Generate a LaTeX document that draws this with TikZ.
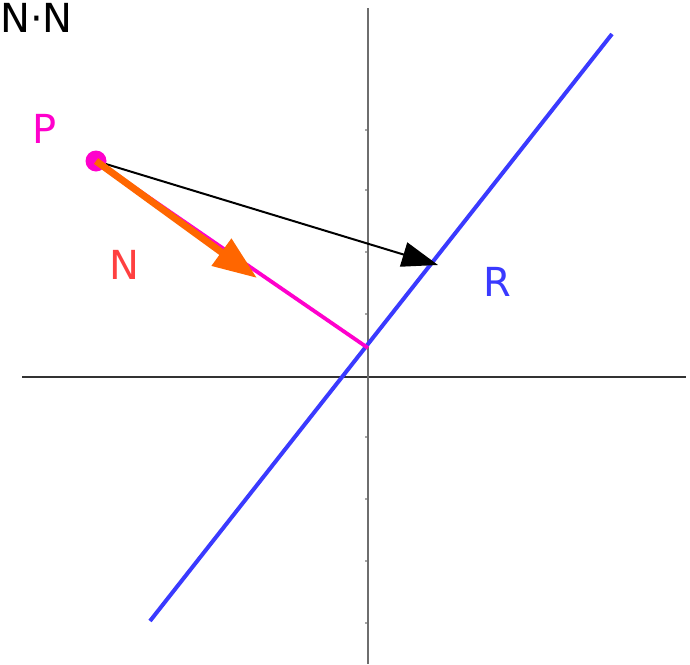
\documentclass[tikz,border=0pt]{standalone}
\usepackage{fontspec}
\setmainfont{DejaVu Sans}
\usetikzlibrary{arrows.meta,calc}
\definecolor{lineblue}{RGB}{58,58,255}
\definecolor{pmagenta}{RGB}{255,0,204}
\definecolor{narrow}{RGB}{255,102,0}
\definecolor{nred}{RGB}{255,64,64}
\tikzset{
  axisx/.style={line width=2.2pt, draw=black!80},
  axisy/.style={line width=2.2pt, draw=black!57},
  tick/.style={line width=1.4pt, draw=black!35},
  lbl/.style={inner sep=0pt, font=\fontsize{40}{48}\selectfont},
  invisible/.style={inner sep=0pt}
}

\begin{document}
\begin{tikzpicture}[x=1pt,y=-1pt]
\useasboundingbox (0,0) rectangle (690,664);

%AXES
\coordinate (xl) at (22,377);
\coordinate (xr) at (686,377);
\coordinate (yt) at (368,8);
\coordinate (yb) at (368,664);
\draw[axisx] (xl) -- (xr);
\draw[axisy] (yt) -- (yb);
\foreach \ty in {130,190,252,314,437,499,561,623}
  \draw[tick] (366,\ty-1) -- (366,\ty+1);

%LINE R
\coordinate (r1) at (150,621);
\coordinate (r2) at (612,34);
\draw[lineblue, line width=4pt] (r1) -- (r2);

%POINT P
\coordinate (P) at (96,161);
\coordinate (foot) at (368,348);
\draw[pmagenta, line width=3.8pt] (P) -- (foot);

\coordinate (hit) at (438,265);
\draw[-{Triangle[length=36pt,width=25pt]}, line width=2pt] (P) -- (hit);

\fill[pmagenta] (P) circle (10.5pt);

%VECTOR N
\coordinate (ntip) at (257,278);
\draw[narrow, line width=7pt, -{Triangle[length=44pt,width=32pt]}] (P) -- (ntip);

%LABELS
\node[lbl, anchor=west] (nn) at (0,18) {N·N};
\node[lbl, text=pmagenta] (lp) at (45,129) {P};
\node[lbl, text=nred] (ln) at (124,265) {N};
\node[lbl, text=lineblue] (lr) at (497,282) {R};
\end{tikzpicture}
\end{document}
